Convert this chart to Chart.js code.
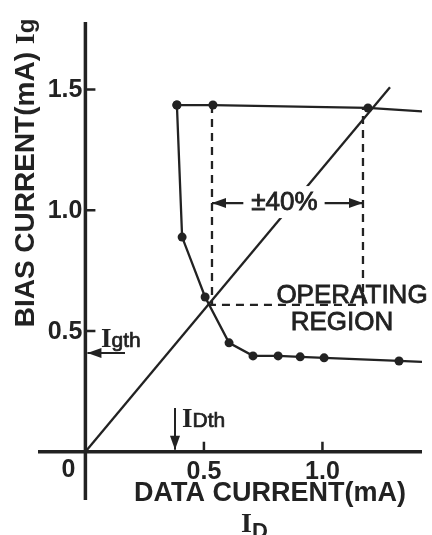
<!DOCTYPE html>
<html>
<head>
<meta charset="utf-8">
<script src="https://cdn.jsdelivr.net/npm/chart.js@4.4.0/dist/chart.umd.min.js"></script>
<style>
  html, body { margin: 0; padding: 0; background: #fff; }
  #wrap { width: 432px; height: 535px; }
</style>
</head>
<body>
<div id="wrap"><canvas id="biasChart"></canvas></div>
<script>
// bias current vs data current, operating region
var upperLine = [
  {x: 0.386, y: 1.436}, {x: 0.538, y: 1.436}, {x: 1.192, y: 1.424}, {x: 1.42, y: 1.41}
];
var upperRadius = [4.5, 4.5, 4.5, 0];
var lowerCurve = [
  {x: 0.386, y: 1.436}, {x: 0.408, y: 0.889}, {x: 0.505, y: 0.641}, {x: 0.606, y: 0.451},
  {x: 0.707, y: 0.397}, {x: 0.813, y: 0.397}, {x: 0.906, y: 0.393}, {x: 1.007, y: 0.389},
  {x: 1.323, y: 0.376}, {x: 1.42, y: 0.372}
];
var lowerRadius = [4.5, 4.5, 4.5, 4.5, 4.5, 4.5, 4.5, 4.5, 4.5, 0];
var diagonal = [{x: 0, y: 0}, {x: 1.285, y: 1.51}];
var leftDash = [{x: 0.534, y: 1.436}, {x: 0.534, y: 0.608}];
var rightDash = [{x: 0.517, y: 0.608}, {x: 1.171, y: 0.608}, {x: 1.171, y: 1.424}];

var xTicks = [0.5, 1.0];
var xTickLabels = ['0.5', '1.0'];
var yTicks = [0.5, 1.0, 1.5];
var yTickLabels = ['0.5', '1.0', '1.5'];

var igth = 0.409;   // gate threshold (mA)
var idth = 0.378;   // data threshold (mA)
var marginY = 1.03; // height of the +-40% arrow
var marginFrom = 0.534, marginTo = 1.171;

var ink = '#222';

function arrow(ctx, x1, y1, x2, y2) {
  var a = Math.atan2(y2 - y1, x2 - x1);
  ctx.beginPath();
  ctx.moveTo(x1, y1);
  ctx.lineTo(x2, y2);
  ctx.stroke();
  ctx.beginPath();
  ctx.moveTo(x2, y2);
  ctx.lineTo(x2 - 14 * Math.cos(a) + 5 * Math.sin(a), y2 - 14 * Math.sin(a) - 5 * Math.cos(a));
  ctx.lineTo(x2 - 14 * Math.cos(a) - 5 * Math.sin(a), y2 - 14 * Math.sin(a) + 5 * Math.cos(a));
  ctx.closePath();
  ctx.fill();
}

// draws a run of [text, font, dy] pieces starting at x
function runText(ctx, parts, x, y) {
  parts.forEach(function (p) {
    ctx.font = p[1];
    ctx.fillText(p[0], x, y + (p[2] || 0));
    if (p[3]) ctx.strokeText(p[0], x, y + (p[2] || 0));
    x += ctx.measureText(p[0]).width;
  });
}
function runWidth(ctx, parts) {
  var w = 0;
  parts.forEach(function (p) { ctx.font = p[1]; w += ctx.measureText(p[0]).width; });
  return w;
}
// regular face with a thin outline, close to the medium weight of the scan
function mediumText(ctx, s, x, y) {
  ctx.fillText(s, x, y);
  ctx.strokeText(s, x, y);
}

var axesPlugin = {
  id: 'axesAndNotes',
  beforeDatasetsDraw: function (chart) {
    var ctx = chart.ctx, xs = chart.scales.x, ys = chart.scales.y;
    var x0 = xs.getPixelForValue(0), y0 = ys.getPixelForValue(0);
    ctx.save();
    ctx.strokeStyle = ink;
    ctx.lineCap = 'butt';
    ctx.lineWidth = 3.5;
    ctx.beginPath();
    ctx.moveTo(x0, ys.getPixelForValue(ys.max));
    ctx.lineTo(x0, ys.getPixelForValue(ys.min));
    ctx.moveTo(xs.getPixelForValue(xs.min), y0);
    ctx.lineTo(xs.getPixelForValue(xs.max), y0);
    ctx.stroke();
    ctx.lineWidth = 2.5;
    ctx.beginPath();
    yTicks.forEach(function (v) {
      var py = ys.getPixelForValue(v);
      ctx.moveTo(x0, py); ctx.lineTo(x0 + 10, py);
    });
    xTicks.forEach(function (v) {
      var px = xs.getPixelForValue(v);
      ctx.moveTo(px, y0); ctx.lineTo(px, y0 - 10);
    });
    ctx.stroke();
    ctx.restore();
  },
  afterDatasetsDraw: function (chart) {
    var ctx = chart.ctx, xs = chart.scales.x, ys = chart.scales.y;
    var x0 = xs.getPixelForValue(0), y0 = ys.getPixelForValue(0);
    var sans = '"Liberation Sans", Arial, sans-serif';
    var serif = '"Liberation Serif", "Times New Roman", serif';
    ctx.save();
    ctx.fillStyle = ink;
    ctx.strokeStyle = ink;

    // tick labels
    ctx.font = 'bold 25px ' + sans;
    ctx.textAlign = 'right';
    ctx.textBaseline = 'middle';
    yTicks.forEach(function (v, i) {
      ctx.fillText(yTickLabels[i], x0 - 3, ys.getPixelForValue(v) + 1);
    });
    ctx.textAlign = 'center';
    xTicks.forEach(function (v, i) {
      ctx.fillText(xTickLabels[i], xs.getPixelForValue(v), y0 + 20);
    });
    ctx.fillText('0', x0 - 17, y0 + 18);

    // +-40% margin arrow
    var my = ys.getPixelForValue(marginY);
    var mx = xs.getPixelForValue((marginFrom + marginTo) / 2) - 3;
    ctx.font = '26px ' + sans;
    var tw = ctx.measureText('\u00b140%').width;
    ctx.fillStyle = '#fff';
    ctx.fillRect(mx - tw / 2 - 6, my - 17, tw + 12, 32);
    ctx.fillStyle = ink;
    ctx.lineWidth = 0.8;
    mediumText(ctx, '\u00b140%', mx, my);
    ctx.lineWidth = 2.2;
    arrow(ctx, mx - tw / 2 - 8, my, xs.getPixelForValue(marginFrom), my);
    arrow(ctx, mx + tw / 2 + 7, my, xs.getPixelForValue(marginTo), my);

    // operating region label
    ctx.font = '26px ' + sans;
    ctx.lineWidth = 0.8;
    mediumText(ctx, 'OPERATING', 352, 296);
    mediumText(ctx, 'REGION', 342, 323);

    // thresholds
    ctx.lineWidth = 2;
    var gy = ys.getPixelForValue(igth);
    arrow(ctx, xs.getPixelForValue(0.167), gy, x0 + 2, gy);
    var dx = xs.getPixelForValue(idth);
    arrow(ctx, dx, ys.getPixelForValue(0.181), dx, y0 - 2);
    ctx.textAlign = 'left';
    ctx.textBaseline = 'alphabetic';
    ctx.lineWidth = 0.7;
    runText(ctx, [['I', 'bold 27px ' + serif], ['gth', '21px ' + sans, 0, true]], 101, 347);
    runText(ctx, [['I', 'bold 27px ' + serif], ['Dth', '21px ' + sans, 0, true]], 182, 427);

    // axis titles
    ctx.font = 'bold 27px ' + sans;
    ctx.textAlign = 'center';
    ctx.textBaseline = 'middle';
    ctx.fillText('DATA CURRENT(mA)', 270, 494);
    ctx.textAlign = 'left';
    ctx.textBaseline = 'alphabetic';
    runText(ctx, [['I', 'bold 28px ' + serif], ['D', 'bold 22px ' + sans, 6]], 241, 532);

    ctx.translate(34, 173);
    ctx.rotate(-Math.PI / 2);
    var yParts = [['BIAS CURRENT(mA) ', 'bold 28px ' + sans], ['I', 'bold 28px ' + serif], ['g', 'bold 24px ' + sans]];
    runText(ctx, yParts, -runWidth(ctx, yParts) / 2, 0);
    ctx.restore();
  }
};

var lineStyle = {showLine: true, borderColor: ink, backgroundColor: ink, borderWidth: 2.3, pointBorderWidth: 0};

new Chart(document.getElementById('biasChart'), {
  type: 'scatter',
  data: {
    datasets: [
      Object.assign({data: diagonal, pointRadius: 0}, lineStyle),
      Object.assign({data: leftDash, pointRadius: 0, borderDash: [8, 6]}, lineStyle),
      Object.assign({data: rightDash, pointRadius: 0, borderDash: [8, 6]}, lineStyle),
      Object.assign({data: upperLine, pointRadius: upperRadius}, lineStyle),
      Object.assign({data: lowerCurve, pointRadius: lowerRadius}, lineStyle)
    ]
  },
  options: {
    responsive: true,
    maintainAspectRatio: false,
    animation: false,
    layout: {padding: {left: 38, right: 10, top: 22, bottom: 35}},
    plugins: {legend: {display: false}, tooltip: {enabled: false}},
    scales: {
      x: {type: 'linear', min: -0.2, max: 1.42, display: false},
      y: {type: 'linear', min: -0.2, max: 1.78, display: false}
    }
  },
  plugins: [axesPlugin]
});
</script>
</body>
</html>
